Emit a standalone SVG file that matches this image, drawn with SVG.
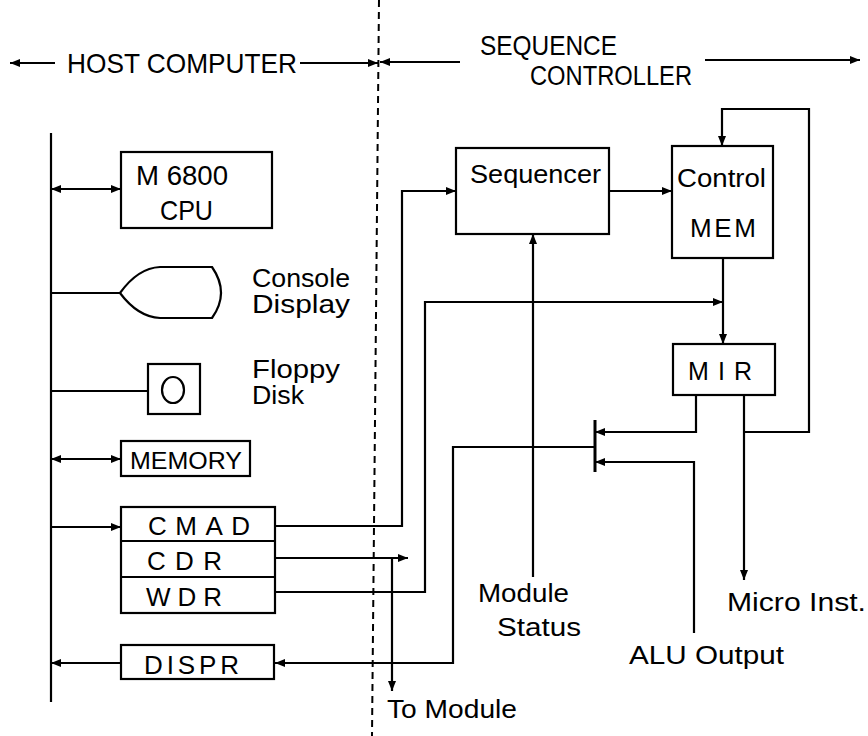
<svg xmlns="http://www.w3.org/2000/svg" width="868" height="736" viewBox="0 0 868 736">
<defs>
<marker id="ah" viewBox="0 0 10 8" refX="10" refY="4" markerWidth="10" markerHeight="8" markerUnits="userSpaceOnUse" orient="auto-start-reverse">
<path d="M0,0 L10,4 L0,8 Z" fill="#000"/>
</marker>
</defs>
<style>
.t{font-family:"Liberation Sans","DejaVu Sans",sans-serif;fill:#000}
.box{fill:#fff;stroke:#000;stroke-width:2.2}
.ln{fill:none;stroke:#000;stroke-width:2.2}
.ar{fill:none;stroke:#000;stroke-width:2.2;marker-end:url(#ah)}
.dar{fill:none;stroke:#000;stroke-width:2.2;marker-end:url(#ah);marker-start:url(#ah)}
</style>
<rect width="868" height="736" fill="#fff"/>

<g id="header">
<line x1="379" y1="0" x2="372" y2="736" stroke="#000" stroke-width="2" stroke-dasharray="7,5"/>
<line class="ar" x1="55" y1="63" x2="10" y2="63"/>
<text class="t" x="67" y="73" font-size="28" textLength="230" lengthAdjust="spacingAndGlyphs">HOST  COMPUTER</text>
<line class="ar" x1="300" y1="63" x2="378" y2="63"/>
<line class="ar" x1="460" y1="62" x2="380" y2="62"/>
<text class="t" x="480" y="55" font-size="28" textLength="137" lengthAdjust="spacingAndGlyphs">SEQUENCE</text>
<text class="t" x="530" y="85" font-size="27" textLength="162" lengthAdjust="spacingAndGlyphs">CONTROLLER</text>
<line class="ar" x1="705" y1="60" x2="860" y2="60"/>
</g>

<g id="connectors">
<line class="ln" x1="51" y1="133" x2="51" y2="702"/>
<line class="dar" x1="51" y1="189" x2="121" y2="189"/>
<line class="ln" x1="51" y1="293" x2="120" y2="293"/>
<line class="ln" x1="51" y1="391" x2="148" y2="391"/>
<line class="dar" x1="51" y1="459" x2="121" y2="459"/>
<line class="ar" x1="51" y1="527" x2="121" y2="527"/>
<line class="ar" x1="121" y1="663" x2="51" y2="663"/>
<path class="ar" d="M275,526 H402 V191 H456"/>
<path class="ar" d="M275,558 H408"/>
<path class="ar" d="M392,558 V691"/>
<path class="ar" d="M275,592 H425 V302 H723"/>
<path class="ar" d="M609,191 H672"/>
<path class="ar" d="M723,258 V344"/>
<path class="ar" d="M533,577 V234"/>
<path class="ar" d="M696,395 V432 H595"/>
<path class="ar" d="M694,633 V462 H595"/>
<path class="ar" d="M595,447 H453 V663 H275"/>
<path class="ar" d="M744,395 V580"/>
<path class="ar" d="M744,432 H809 V109 H722 V146"/>
<line x1="595" y1="420" x2="595" y2="472" stroke="#000" stroke-width="3"/>
</g>

<g id="cpu">
<rect class="box" x="121" y="152" width="151" height="76"/>
<text class="t" x="136" y="185" font-size="28" textLength="92" lengthAdjust="spacingAndGlyphs">M 6800</text>
<text class="t" x="160" y="220" font-size="28" textLength="53" lengthAdjust="spacingAndGlyphs">CPU</text>
</g>

<g id="console">
<path class="box" d="M120,293 Q138,268 160,267 L212,267 Q230,293 212,318 L160,318 Q138,317 120,293 Z"/>
<text class="t" x="252" y="287" font-size="25" textLength="98" lengthAdjust="spacingAndGlyphs">Console</text>
<text class="t" x="252" y="313" font-size="25" textLength="98" lengthAdjust="spacingAndGlyphs">Display</text>
</g>

<g id="floppy">
<rect class="box" x="148" y="364" width="52" height="50"/>
<ellipse cx="173" cy="390" rx="11" ry="13" fill="none" stroke="#000" stroke-width="2.2"/>
<text class="t" x="252" y="378" font-size="25" textLength="88" lengthAdjust="spacingAndGlyphs">Floppy</text>
<text class="t" x="252" y="404" font-size="25" textLength="52" lengthAdjust="spacingAndGlyphs">Disk</text>
</g>

<g id="memory">
<rect class="box" x="121" y="441" width="129" height="35"/>
<text class="t" x="130" y="469" font-size="24" textLength="112" lengthAdjust="spacingAndGlyphs">MEMORY</text>
</g>

<g id="registers">
<rect class="box" x="121" y="507" width="154" height="106"/>
<line class="ln" x1="121" y1="541" x2="275" y2="541"/>
<line class="ln" x1="121" y1="577" x2="275" y2="577"/>
<text class="t" x="148" y="535" font-size="26" textLength="102" lengthAdjust="spacing">CMAD</text>
<text class="t" x="147" y="570" font-size="26" textLength="75" lengthAdjust="spacing">CDR</text>
<text class="t" x="146" y="606" font-size="26" textLength="76" lengthAdjust="spacing">WDR</text>
</g>

<g id="dispr">
<rect class="box" x="121" y="645" width="153" height="34"/>
<text class="t" x="144" y="674" font-size="26" textLength="95" lengthAdjust="spacing">DISPR</text>
</g>

<g id="sequencer">
<rect class="box" x="456" y="148" width="153" height="86"/>
<text class="t" x="470" y="183" font-size="26" textLength="131" lengthAdjust="spacingAndGlyphs">Sequencer</text>
</g>

<g id="controlmem">
<rect class="box" x="672" y="146" width="101" height="112"/>
<text class="t" x="677" y="187" font-size="25" textLength="89" lengthAdjust="spacingAndGlyphs">Control</text>
<text class="t" x="690" y="237" font-size="26" textLength="66" lengthAdjust="spacing">MEM</text>
</g>

<g id="mir">
<rect class="box" x="673" y="344" width="102" height="51"/>
<text class="t" x="688" y="380" font-size="25" textLength="64" lengthAdjust="spacing">MIR</text>
</g>

<g id="labels">
<text class="t" x="478" y="602" font-size="25" textLength="91" lengthAdjust="spacingAndGlyphs">Module</text>
<text class="t" x="497" y="636" font-size="25" textLength="84" lengthAdjust="spacingAndGlyphs">Status</text>
<text class="t" x="629" y="664" font-size="25" textLength="155" lengthAdjust="spacingAndGlyphs">ALU  Output</text>
<text class="t" x="727" y="611" font-size="25" textLength="139" lengthAdjust="spacingAndGlyphs">Micro Inst.</text>
<text class="t" x="387" y="718" font-size="25" textLength="130" lengthAdjust="spacingAndGlyphs">To Module</text>
</g>
</svg>
